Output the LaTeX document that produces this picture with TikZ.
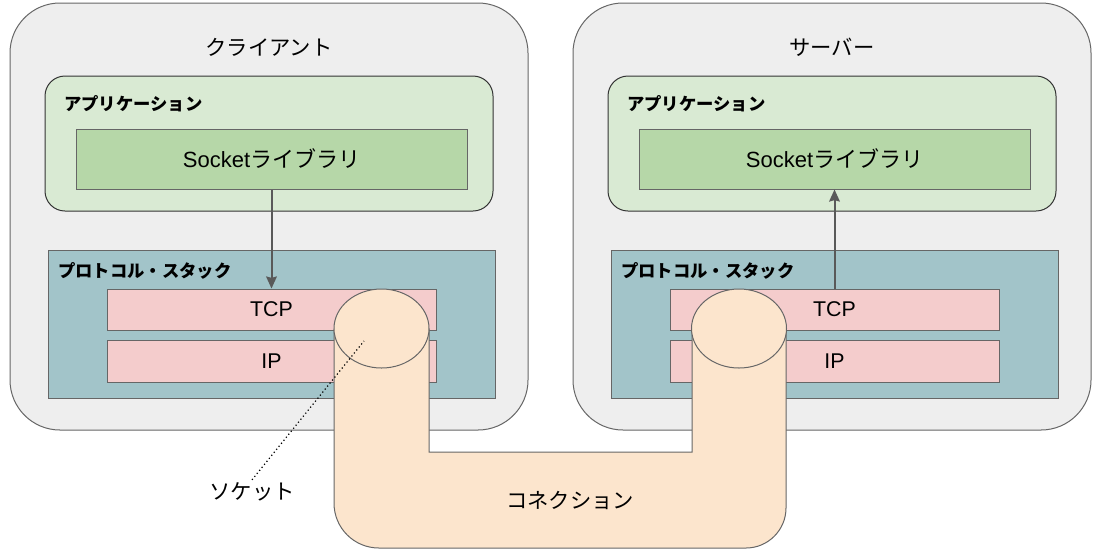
\documentclass[tikz,border=0pt]{standalone}
\usepackage{fontspec}
\setmainfont{Liberation Sans}
\newfontfamily\jp{Noto Sans CJK JP}
\usetikzlibrary{arrows.meta,shapes.geometric}
\definecolor{sockEdge}{HTML}{666666}
\definecolor{sockHost}{HTML}{EEEEEE}
\definecolor{sockApp}{HTML}{D9EAD3}
\definecolor{sockLib}{HTML}{B6D7A8}
\definecolor{sockStack}{HTML}{A2C4C9}
\definecolor{sockProto}{HTML}{F4CCCC}
\definecolor{sockPipe}{HTML}{FCE5CD}
\definecolor{sockArrow}{HTML}{595959}
\tikzset{
  hostbox/.style={draw=sockEdge,fill=sockHost,line width=0.75pt,
                  rounded corners=37.5pt,minimum width=388.5pt,
                  minimum height=320.25pt,inner sep=0pt},
  appbox/.style={draw=black!80,fill=sockApp,line width=0.75pt,
                 rounded corners=15pt,minimum width=336pt,
                 minimum height=101.25pt,inner sep=0pt},
  libbox/.style={draw=sockEdge,fill=sockLib,line width=0.75pt,
                 minimum width=293.25pt,minimum height=45pt,
                 inner sep=0pt,font=\fontsize{16.5}{18}\selectfont},
  stackbox/.style={draw=sockEdge,fill=sockStack,line width=0.75pt,
                   minimum width=335.25pt,minimum height=111pt,inner sep=0pt},
  protobox/.style={draw=sockEdge,fill=sockProto,line width=0.75pt,
                   minimum width=246.75pt,minimum height=30.75pt,
                   inner sep=0pt,font=\fontsize{16}{18}\selectfont},
  pipeend/.style={ellipse,draw=sockEdge,fill=sockPipe,line width=0.75pt,
                  minimum width=71.25pt,minimum height=59.25pt,inner sep=0pt},
  titletext/.style={font=\jp\fontsize{16}{18}\selectfont},
  boldlabel/.style={anchor=west,inner sep=0pt,
                    font=\jp\bfseries\fontsize{13}{15}\selectfont},
  flowarrow/.style={-{Stealth[length=9pt,width=8pt,inset=1pt]},
                    line width=1.5pt,sockArrow}
}
\begin{document}
\begin{tikzpicture}[x=0.75pt,y=-0.75pt]
  \useasboundingbox (0,0) rectangle (1102,558);

  % client side
  \begin{scope}
    \node[hostbox] (cli) at (269,216.5) {};
    \node[titletext] (cliname) at (269,47) {クライアント};
    \node[appbox] (cliapp) at (269,143.5) {};
    \node[boldlabel] (cliapplbl) at (64,104) {アプリケーション};
    \node[libbox] (clisock) at (271.5,159) {Socket{\jp ライブラリ}};
    \node[stackbox] (clistack) at (271.5,324) {};
    \node[boldlabel] (clistacklbl) at (58,271) {プロトコル・スタック};
    \node[protobox] (clitcp) at (271.5,309.5) {TCP};
    \node[protobox,minimum height=31.5pt] (cliip) at (271.5,361) {IP};
    \draw[flowarrow] (clisock.south) -- (clitcp.north);
  \end{scope}

  % server side
  \begin{scope}[xshift=422.25pt]
    \node[hostbox] (srv) at (269,216.5) {};
    \node[titletext] (srvname) at (269,47) {サーバー};
    \node[appbox] (srvapp) at (269,143.5) {};
    \node[boldlabel] (srvapplbl) at (64,104) {アプリケーション};
    \node[libbox] (srvsock) at (271.5,159) {Socket{\jp ライブラリ}};
    \node[stackbox] (srvstack) at (271.5,324) {};
    \node[boldlabel] (srvstacklbl) at (58,271) {プロトコル・スタック};
    \node[protobox] (srvtcp) at (271.5,309.5) {TCP};
    \node[protobox,minimum height=31.5pt] (srvip) at (271.5,361) {IP};
    \draw[flowarrow] (srvtcp.north) -- (srvsock.south);
  \end{scope}

  % connection pipe
  \draw[draw=sockEdge,fill=sockPipe,line width=0.75pt]
    (334,329) -- (334,503) .. controls (334,528) and (354,548) .. (379,548)
    -- (746,548) .. controls (768,548) and (786,530) .. (786,508)
    -- (786,329) -- (692,329) -- (692,452) -- (429,452) -- (429,329) -- cycle;
  \node[pipeend] (cliend) at (381.5,328.5) {};
  \node[pipeend] (srvend) at (739,328.5) {};
  \node[titletext] (conn) at (570,500) {コネクション};

  \coordinate (sockpt) at (364,341);
  \node[titletext,inner sep=2pt] (socklbl) at (252,492) {ソケット};
  \draw[dotted,line width=0.9pt] (socklbl.north) -- (sockpt);
\end{tikzpicture}
\end{document}
